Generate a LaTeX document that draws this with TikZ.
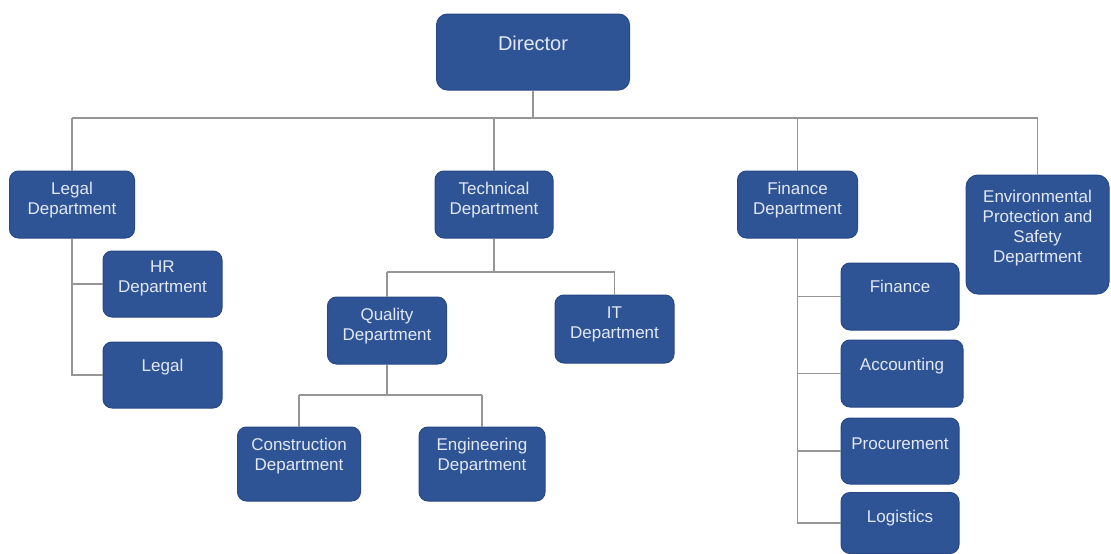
\documentclass[tikz,border=0pt]{standalone}
\usepackage{fontspec}
\setmainfont{Liberation Sans}
\definecolor{boxblue}{RGB}{47,84,150}
\definecolor{boxedge}{RGB}{40,72,132}
\definecolor{boxtext}{RGB}{226,232,245}
\definecolor{linegray}{RGB}{150,150,150}
\newcommand\bt[2]{\raisebox{#1}[0pt][0pt]{\begin{tabular}{@{}c@{}}#2\end{tabular}}}
\begin{document}
\begin{tikzpicture}[x=1pt,y=-1pt,
  dept/.style={draw=boxedge, line width=1pt, fill=boxblue, rounded corners=9pt,
    text=boxtext, inner sep=0pt, font=\fontsize{17}{20}\selectfont},
  conn/.style={draw=linegray, line width=1.1pt}]
\useasboundingbox (0,0) rectangle (1111,554);
% level 0
\node[dept, minimum width=193pt, minimum height=76pt, rounded corners=11pt,
  font=\fontsize{20}{24}\selectfont] (dir) at (533,52) {\bt{1pt}{Director}};
% level 1
\node[dept, minimum width=125pt, minimum height=67pt] (ld) at (72,204.5) {\bt{0pt}{Legal\\Department}};
\node[dept, minimum width=118pt, minimum height=67pt] (td) at (494,204.5) {\bt{0pt}{Technical\\Department}};
\node[dept, minimum width=120pt, minimum height=67pt] (fd) at (797.5,204.5) {\bt{0pt}{Finance\\Department}};
\node[dept, minimum width=143pt, minimum height=119pt, rounded corners=12pt] (env) at (1037.5,234.5) {\bt{2pt}{Environmental\\Protection and\\Safety\\Department}};
% legal subtree
\node[dept, minimum width=119pt, minimum height=66pt] (hr) at (162.5,284) {\bt{1pt}{HR\\Department}};
\node[dept, minimum width=119pt, minimum height=66pt] (lg) at (162.5,375) {\bt{3pt}{Legal}};
% technical subtree
\node[dept, minimum width=119pt, minimum height=67pt] (qd) at (387,330.5) {\bt{0pt}{Quality\\Department}};
\node[dept, minimum width=119pt, minimum height=68pt] (it) at (614.5,329) {\bt{0pt}{IT\\Department}};
\node[dept, minimum width=123pt, minimum height=74pt] (cd) at (299,464) {\bt{3pt}{Construction\\Department}};
\node[dept, minimum width=126pt, minimum height=74pt] (ed) at (482,464) {\bt{3pt}{Engineering\\Department}};
% finance subtree
\node[dept, minimum width=118pt, minimum height=67pt] (fi) at (900,296.5) {\bt{4pt}{Finance}};
\node[dept, minimum width=122pt, minimum height=67pt] (ac) at (902,373.5) {\bt{3pt}{Accounting}};
\node[dept, minimum width=118pt, minimum height=66pt] (pr) at (900,451) {\bt{1pt}{Procurement}};
\node[dept, minimum width=118pt, minimum height=61pt] (lo) at (900,523) {\bt{0pt}{Logistics}};
% connectors
\coordinate (bus) at (0,118);
\coordinate (tbus) at (0,272);
\coordinate (qbus) at (0,395);
\draw[conn] (dir.south) -- (dir.south |- bus);
\draw[conn] (ld.north |- bus) -- (env.north |- bus);
\draw[conn] (ld.north |- bus) -- (ld.north);
\draw[conn] (td.north |- bus) -- (td.north);
\draw[conn] (fd.north |- bus) -- (fd.north);
\draw[conn] (env.north |- bus) -- (env.north);
\draw[conn] (ld.south) -- (ld.south |- lg.west) -- (lg.west);
\draw[conn] (ld.south |- hr.west) -- (hr.west);
\draw[conn] (td.south) -- (td.south |- tbus);
\draw[conn] (qd.north |- tbus) -- (it.north |- tbus);
\draw[conn] (qd.north |- tbus) -- (qd.north);
\draw[conn] (it.north |- tbus) -- (it.north);
\draw[conn] (qd.south) -- (qd.south |- qbus);
\draw[conn] (cd.north |- qbus) -- (ed.north |- qbus);
\draw[conn] (cd.north |- qbus) -- (cd.north);
\draw[conn] (ed.north |- qbus) -- (ed.north);
\draw[conn] (fd.south) -- (fd.south |- lo.west) -- (lo.west);
\draw[conn] (fd.south |- fi.west) -- (fi.west);
\draw[conn] (fd.south |- ac.west) -- (ac.west);
\draw[conn] (fd.south |- pr.west) -- (pr.west);
\end{tikzpicture}
\end{document}
